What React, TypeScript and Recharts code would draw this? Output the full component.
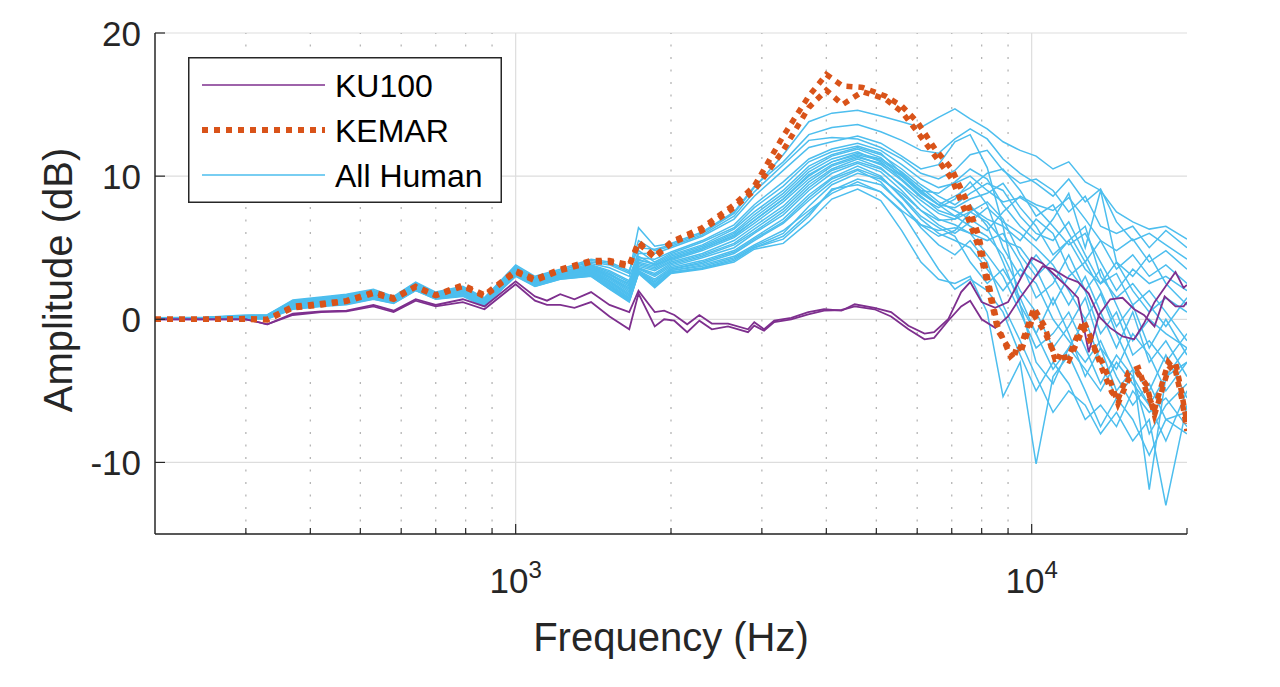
import { LineChart, Line, XAxis, YAxis, CartesianGrid, ReferenceLine, Legend, Label } from 'recharts';

// frequency grids (Hz)
const humanFreq = [200, 250, 300, 330, 370, 420, 470, 530, 580, 640, 700, 790, 870, 1000, 1090, 1220, 1400, 1520, 1660, 1730, 1860, 2000, 2300, 2650, 2900, 3300, 3700, 4100, 4600, 5100, 5600, 6100, 6600, 7100, 7600, 8200, 8800, 9500, 10200, 11000, 11800, 12700, 13600, 14600, 15700, 16900, 18200, 20000];
const kemarFreq = [200, 250, 300, 330, 370, 420, 470, 530, 580, 640, 700, 790, 870, 1000, 1090, 1220, 1400, 1520, 1660, 1730, 1860, 2000, 2300, 2650, 2900, 3300, 3700, 4000, 4300, 4700, 5200, 5600, 6000, 6500, 7000, 7500, 7900, 8200, 8600, 9100, 9500, 10100, 10600, 11100, 11800, 12600, 13000, 13700, 14300, 14700, 15400, 16100, 16700, 17300, 18400, 19000, 19500, 20000];
const ku100Freq = [200, 250, 300, 330, 370, 420, 470, 530, 580, 640, 700, 790, 870, 1000, 1090, 1150, 1220, 1300, 1400, 1520, 1660, 1730, 1860, 1940, 2030, 2150, 2270, 2400, 2580, 2820, 2900, 3030, 3170, 3420, 3690, 3960, 4280, 4540, 4960, 5340, 5770, 6200, 6470, 6890, 7300, 7600, 8000, 8500, 9000, 9500, 10000, 10500, 11000, 11700, 12300, 12900, 13500, 14200, 15000, 15800, 16500, 17300, 18100, 19000, 19700, 20000];

// amplitudes (dB)
const kemarLeft = [0, 0, 0.05, 0.0, 0.9, 1.1, 1.3, 1.9, 1.5, 2.3, 1.7, 2.4, 1.7, 3.4, 2.8, 3.5, 4.1, 4.1, 3.8, 5.4, 4.4, 5.4, 6.4, 8.0, 9.3, 12.8, 15.6, 17.1, 16.3, 16.2, 15.6, 14.9, 13.8, 11.9, 10.5, 8.2, 5.8, 3.0, -0.5, -2.6, -2.0, 0.8, -0.5, -2.8, -2.6, -0.1, -1.2, -3.5, -5.1, -5.6, -3.7, -3.4, -5.1, -6.3, -3.0, -3.6, -5.4, -7.8];
const kemarRight = [0, 0, 0.0, -0.05, 0.8, 1.0, 1.25, 1.8, 1.4, 2.25, 1.65, 2.3, 1.6, 3.3, 2.7, 3.4, 4.0, 4.0, 3.7, 5.3, 4.3, 5.3, 6.2, 7.8, 9.0, 11.8, 14.8, 16.0, 15.0, 15.9, 15.4, 14.5, 13.1, 11.4, 9.8, 7.2, 5.0, 2.5, -0.8, -2.2, -2.4, 0.3, -0.9, -2.5, -2.9, -0.6, -1.6, -3.0, -4.6, -5.9, -4.2, -3.8, -4.6, -6.7, -3.5, -3.0, -5.0, -7.3];
const ku100Left = [0, 0, 0, -0.35, 0.4, 0.55, 0.6, 1.0, 0.6, 1.4, 1.0, 1.4, 0.9, 2.65, 1.6, 1.3, 1.75, 1.4, 1.9, 1.0, 0.5, 2.0, 0.5, 0.6, 0.3, -0.35, 0.3, -0.3, -0.3, -0.7, -0.2, -0.7, -0.1, 0.1, 0.5, 0.7, 0.6, 1.05, 0.8, 0.5, -0.45, -1.0, -0.9, 0.0, 1.9, 2.6, 1.2, 0.8, 1.2, 2.8, 4.3, 3.9, 3.2, 2.3, 1.5, -2.3, 0.3, 1.4, 1.5, 0.7, 0.3, -0.5, 1.6, 0.9, 0.9, 1.2];
const ku100Right = [0, 0, 0, -0.35, 0.3, 0.5, 0.55, 0.9, 0.5, 1.3, 0.9, 1.2, 0.7, 2.45, 1.3, 1.0, 1.0, 0.8, 1.2, 0.2, -0.7, 1.8, -0.5, 0.0, -0.1, -0.9, -0.1, -0.7, -0.5, -0.9, -0.45, -0.8, -0.2, 0.0, 0.35, 0.6, 0.65, 0.9, 0.7, 0.2, -0.7, -1.4, -1.3, -0.1, 0.9, 1.3, 0.0, -0.6, 0.2, 1.5, 2.6, 3.7, 3.5, 2.9, 2.6, 1.8, 0.2, -0.6, -1.2, -1.4, -0.3, 1.2, 2.2, 3.3, 2.2, 2.4];

const human01 = [0.1, 0.15, 0.3, 0.3, 1.35, 1.55, 1.75, 2.1, 1.6, 2.6, 1.9, 2.3, 1.5, 3.8, 3.0, 3.5, 4.2, 4.0, 3.4, 5.0, 4.9, 5.2, 6.0, 7.4, 9.2, 11.5, 13.8, 14.4, 14.6, 14.2, 13.8, 13.4, 14.1, 14.7, 14.0, 13.3, 12.4, 11.8, 11.4, 10.5, 11.0, 9.6, 9.0, 7.5, 6.8, 6.3, 6.5, 5.6];
const human02 = [0.1, 0.12, 0.25, 0.3, 1.3, 1.5, 1.7, 2.0, 1.55, 2.55, 1.85, 2.2, 1.45, 3.7, 2.9, 3.4, 4.0, 3.8, 3.2, 6.4, 5.1, 5.3, 6.1, 7.5, 9.3, 11.0, 12.9, 13.4, 13.6, 13.1, 12.5, 11.8, 11.6, 12.6, 13.3, 12.6, 11.2, 10.2, 9.5, 8.6, 9.8, 8.2, 9.1, 6.8, 5.5, 6.0, 5.2, 4.2];
const human03 = [0.08, 0.1, 0.22, 0.25, 1.2, 1.45, 1.65, 1.95, 1.5, 2.5, 1.8, 2.15, 1.4, 3.6, 2.85, 3.3, 3.9, 3.6, 3.0, 4.6, 4.6, 5.0, 5.8, 7.0, 8.6, 10.4, 12.0, 12.4, 12.8, 12.3, 11.4, 10.5, 10.8, 12.4, 12.9, 10.6, 6.5, 1.0, -3.0, -4.5, -2.0, -3.5, -5.0, -3.0, -4.5, -6.0, -4.0, -3.0];
const human04 = [0.08, 0.1, 0.2, 0.25, 1.15, 1.4, 1.6, 1.9, 1.45, 2.45, 1.75, 2.1, 1.35, 3.55, 2.8, 3.25, 3.8, 3.4, 2.7, 4.3, 4.2, 4.7, 5.5, 6.6, 8.0, 9.6, 11.2, 11.9, 12.3, 11.8, 10.8, 9.8, 9.2, 9.5, 10.0, 9.0, 8.2, 8.5, 7.8, 6.5, 5.2, 6.0, 4.0, 2.0, 3.5, 2.5, 3.0, 2.0];
const human05 = [0.07, 0.1, 0.18, 0.22, 1.1, 1.35, 1.55, 1.85, 1.4, 2.4, 1.7, 2.05, 1.3, 3.5, 2.75, 3.2, 3.7, 3.2, 2.4, 4.1, 3.9, 4.5, 5.2, 6.3, 7.5, 9.0, 10.7, 11.5, 12.0, 11.5, 10.5, 9.4, 8.6, 8.0, 8.8, 9.5, 9.0, 7.2, 6.0, 5.5, 6.8, 4.5, 2.5, 4.0, 2.0, 0.5, 1.5, 0.5];
const human06 = [0.06, 0.08, 0.17, 0.2, 1.05, 1.3, 1.5, 1.8, 1.38, 2.35, 1.68, 2.0, 1.25, 3.45, 2.7, 3.15, 3.6, 3.0, 2.2, 4.0, 3.7, 4.3, 5.0, 6.0, 7.1, 8.6, 10.3, 11.2, 11.7, 11.0, 9.8, 8.6, 7.6, 7.2, 7.8, 7.0, 6.5, 5.5, 7.0, 6.0, 3.5, 2.0, 3.5, 1.0, -1.5, 0.0, -1.0, -2.0];
const human07 = [0.06, 0.08, 0.16, 0.18, 1.0, 1.25, 1.45, 1.75, 1.35, 2.3, 1.65, 1.95, 1.2, 3.4, 2.65, 3.1, 3.5, 2.9, 2.0, 3.8, 3.5, 4.1, 4.8, 5.7, 6.7, 8.2, 9.8, 10.8, 11.4, 10.8, 9.7, 8.5, 7.8, 8.4, 9.6, 8.0, 5.0, 3.0, 4.5, 3.0, 1.0, 3.0, 0.5, -2.0, 0.5, -3.0, -1.5, -4.0];
const human08 = [0.05, 0.08, 0.15, 0.17, 1.0, 1.25, 1.4, 1.75, 1.35, 2.3, 1.65, 1.95, 1.25, 3.4, 2.65, 3.15, 3.6, 3.1, 2.5, 4.4, 3.8, 4.2, 4.9, 5.8, 6.9, 8.4, 10.0, 11.0, 11.6, 11.2, 10.3, 9.2, 8.2, 7.6, 7.0, 6.2, 7.5, 8.6, 8.0, 7.6, 8.5, 7.0, 5.5, 4.8, 5.6, 4.0, 4.8, 3.5];
const human09 = [0.05, 0.07, 0.14, 0.15, 0.95, 1.2, 1.38, 1.7, 1.32, 2.25, 1.6, 1.9, 1.15, 3.35, 2.6, 3.05, 3.4, 2.7, 1.8, 3.6, 3.2, 3.9, 4.5, 5.3, 6.3, 7.7, 9.4, 10.5, 11.2, 10.6, 9.3, 8.0, 7.0, 6.6, 6.0, 5.5, 6.0, 4.0, 1.5, 2.5, 4.5, 2.0, -1.0, 0.5, -2.5, -1.5, -3.0, -1.0];
const human10 = [0.04, 0.06, 0.12, 0.13, 0.9, 1.15, 1.32, 1.65, 1.28, 2.2, 1.57, 1.85, 1.1, 3.3, 2.55, 3.0, 3.3, 2.6, 1.6, 3.5, 3.0, 3.7, 4.3, 5.0, 6.0, 7.3, 9.0, 10.2, 10.9, 10.3, 9.0, 7.6, 6.6, 6.0, 6.8, 7.8, 6.8, 6.0, 5.0, 3.8, 2.0, 0.0, 1.8, -1.0, -3.5, -5.0, -2.5, -5.5];
const human11 = [0.03, 0.05, 0.11, 0.12, 0.88, 1.1, 1.28, 1.6, 1.25, 2.17, 1.55, 1.82, 1.05, 3.25, 2.5, 2.95, 3.25, 2.5, 1.5, 3.4, 2.8, 3.6, 4.1, 4.8, 5.7, 7.0, 8.7, 9.9, 10.7, 10.0, 8.5, 7.0, 6.0, 5.5, 5.0, 3.5, 2.0, 3.5, 2.5, 0.0, -1.5, -3.0, -1.5, -4.0, -6.0, -4.5, -7.0, -6.5];
const human12 = [0.03, 0.05, 0.1, 0.1, 0.85, 1.05, 1.22, 1.55, 1.22, 2.13, 1.52, 1.78, 1.0, 3.2, 2.45, 2.9, 3.2, 2.4, 1.4, 3.3, 2.6, 3.5, 3.9, 4.6, 5.5, 6.7, 8.3, 9.6, 10.4, 9.6, 8.0, 6.6, 5.8, 6.2, 7.5, 8.2, 7.0, 4.5, 3.0, 4.2, 5.5, 3.5, 2.5, 3.2, 1.0, 2.0, 0.5, -1.5];
const human13 = [0.02, 0.04, 0.08, 0.08, 0.8, 1.0, 1.18, 1.5, 1.2, 2.1, 1.5, 1.75, 0.98, 3.15, 2.4, 2.85, 3.1, 2.3, 1.3, 3.3, 2.4, 3.4, 3.8, 4.4, 5.2, 6.2, 7.6, 8.8, 9.6, 8.9, 7.5, 5.4, 3.5, 2.1, 2.8, 2.0, 0.5, -2.5, -5.0, -3.0, -4.5, -7.0, -6.0, -7.5, -5.0, -6.5, -5.5, -7.5];
const human14 = [0.01, 0.02, 0.06, 0.05, 0.75, 0.95, 1.1, 1.45, 1.15, 2.05, 1.45, 1.7, 0.95, 3.1, 2.35, 2.85, 3.05, 2.2, 1.25, 3.2, 2.3, 3.3, 3.6, 4.2, 5.0, 5.6, 7.2, 9.1, 9.4, 8.9, 7.6, 6.6, 6.2, 6.4, 6.0, 4.5, 3.0, 0.5, -2.0, -1.0, 0.5, -2.0, -4.5, -2.5, -4.0, -8.0, -6.0, -4.5];
const human15 = [0.0, 0.0, 0.05, 0.02, 0.7, 0.9, 1.02, 1.4, 1.1, 2.0, 1.4, 1.6, 0.9, 3.0, 2.3, 2.8, 3.0, 2.1, 1.2, 3.2, 2.2, 3.2, 3.5, 4.0, 4.9, 5.3, 6.8, 8.4, 9.1, 8.3, 6.2, 4.0, 2.8, 2.5, 3.0, 0.5, -5.4, -3.0, -10.1, -4.0, -2.5, -5.0, -7.5, -5.5, -7.0, -9.5, -7.0, -8.0];
const human16 = [0.02, 0.03, 0.07, 0.06, 0.78, 0.98, 1.15, 1.48, 1.18, 2.08, 1.48, 1.72, 0.96, 3.12, 2.38, 2.87, 3.1, 2.3, 1.5, 3.4, 2.5, 3.4, 3.7, 4.3, 5.1, 6.0, 7.9, 9.4, 10.2, 9.8, 8.8, 7.6, 6.9, 7.0, 8.0, 6.5, 4.0, 1.0, -1.0, 1.5, -1.0, -4.0, -2.0, -5.0, -3.5, -11.9, -4.0, -2.0];
const human17 = [0.01, 0.02, 0.06, 0.04, 0.72, 0.92, 1.06, 1.42, 1.12, 2.02, 1.42, 1.65, 0.92, 3.05, 2.32, 2.82, 3.02, 2.15, 1.3, 3.3, 2.3, 3.25, 3.55, 4.1, 5.0, 5.8, 7.4, 9.0, 9.8, 9.4, 8.1, 6.4, 5.2, 4.5, 5.5, 4.0, 1.0, -1.5, -4.0, -6.5, -5.0, -6.0, -8.0, -6.5, -8.5, -7.0, -13.0, -6.0];
const human18 = [0.09, 0.12, 0.24, 0.28, 1.25, 1.5, 1.7, 2.0, 1.55, 2.5, 1.82, 2.2, 1.5, 3.7, 2.9, 3.4, 4.1, 3.9, 3.3, 5.5, 4.8, 5.1, 5.9, 7.2, 8.9, 10.8, 12.5, 12.7, 12.6, 12.0, 11.2, 10.2, 9.8, 10.4, 11.5, 11.8, 10.4, 9.5, 9.8, 9.0, 7.5, 8.6, 6.5, 6.0, 6.5, 5.0, 6.2, 5.0];
const human19 = [0.05, 0.07, 0.15, 0.16, 1.0, 1.22, 1.42, 1.72, 1.33, 2.28, 1.62, 1.92, 1.2, 3.38, 2.62, 3.08, 3.45, 2.8, 1.9, 3.7, 3.4, 4.0, 4.6, 5.5, 6.5, 7.9, 9.6, 10.7, 11.3, 10.9, 10.0, 9.0, 8.8, 9.6, 10.5, 9.8, 8.0, 6.5, 5.5, 7.0, 8.8, 5.0, 9.0, 4.0, 3.0, 4.5, 2.5, 1.0];
const human20 = [0.07, 0.1, 0.19, 0.22, 1.12, 1.38, 1.58, 1.88, 1.42, 2.42, 1.72, 2.08, 1.32, 3.52, 2.78, 3.22, 3.75, 3.3, 2.6, 4.8, 4.0, 4.6, 5.4, 6.4, 7.8, 9.3, 11.0, 11.7, 12.1, 11.6, 10.2, 9.0, 8.0, 7.2, 6.5, 5.8, 4.5, 2.0, 0.5, -2.0, -0.5, 1.5, -2.0, -3.5, -1.0, -2.5, -5.0, -3.0];
const human21 = [0.06, 0.08, 0.17, 0.19, 1.02, 1.28, 1.48, 1.78, 1.37, 2.33, 1.67, 1.98, 1.22, 3.43, 2.68, 3.12, 3.55, 2.95, 2.1, 3.9, 3.6, 4.2, 4.9, 5.9, 6.9, 8.4, 10.1, 11.0, 11.5, 11.1, 10.1, 8.9, 8.0, 7.8, 8.4, 8.8, 9.5, 7.8, 6.5, 4.5, 5.5, 6.5, 3.0, 1.5, 2.5, 1.0, -0.5, 1.5];
const human22 = [0.04, 0.06, 0.13, 0.14, 0.92, 1.17, 1.35, 1.67, 1.3, 2.22, 1.58, 1.87, 1.12, 3.32, 2.57, 3.02, 3.35, 2.65, 1.7, 3.55, 3.1, 3.8, 4.4, 5.2, 6.1, 7.5, 9.2, 10.4, 11.0, 10.5, 9.4, 8.3, 7.4, 7.0, 7.5, 6.8, 5.5, 5.0, 3.5, 1.0, 3.0, 4.0, 2.0, -0.5, 1.0, -2.0, 0.0, -2.5];
const human23 = [0.07, 0.09, 0.18, 0.21, 1.08, 1.33, 1.52, 1.82, 1.39, 2.37, 1.69, 2.02, 1.28, 3.47, 2.72, 3.18, 3.65, 3.1, 2.3, 4.2, 3.8, 4.4, 5.1, 6.1, 7.3, 8.8, 10.5, 11.4, 11.9, 11.3, 10.0, 8.8, 8.0, 8.6, 9.2, 10.2, 10.5, 9.0, 7.2, 8.0, 6.0, 4.0, 5.5, 3.5, 4.5, 3.0, 3.8, 2.5];
const human24 = [0.03, 0.04, 0.1, 0.1, 0.84, 1.05, 1.22, 1.55, 1.22, 2.13, 1.52, 1.78, 1.02, 3.2, 2.45, 2.9, 3.15, 2.4, 1.4, 3.35, 2.7, 3.5, 4.0, 4.7, 5.6, 6.8, 8.5, 9.8, 10.5, 9.9, 8.6, 7.2, 6.4, 5.8, 4.0, 2.5, 3.5, 1.5, -1.0, -3.5, -2.0, 0.0, -3.0, -5.5, -4.0, -6.0, -8.5, -5.0];

const humanCurves = [human01, human02, human03, human04, human05, human06, human07, human08, human09, human10, human11, human12, human13, human14, human15, human16, human17, human18, human19, human20, human21, human22, human23, human24];

// axes
const xTicks = [300, 400, 500, 600, 700, 800, 900, 1000, 2000, 3000, 4000, 5000, 6000, 7000, 8000, 9000, 10000, 20000];
const xMajor = [1000, 10000];
const xExponent = ['3', '4'];
const xMinorGrid = [300, 400, 500, 600, 700, 800, 900, 2000, 3000, 4000, 5000, 6000, 7000, 8000, 9000];
const yTicks = [-10, 0, 10, 20];

const legendItems = [
  { name: 'KU100', color: '#7E2F8E', dotted: false },
  { name: 'KEMAR', color: '#D95319', dotted: true },
  { name: 'All Human', color: '#4DBEEE', dotted: false },
];

const FONT = '"Liberation Sans", Arial, Helvetica, sans-serif';
const INK = '#262626';
const HUMAN = '#4DBEEE';
const KU100 = '#7E2F8E';
const KEMAR = '#D95319';

const toPoints = (freqs: number[], values: number[]) => freqs.map((f, i) => ({ f, y: values[i] }));

const BottomTick = ({ x, y, payload }: any) => {
  const idx = xMajor.indexOf(payload.value);
  const major = idx >= 0;
  return (
    <g>
      <line x1={x} x2={x} y1={y} y2={y - (major ? 10 : 6)} stroke={INK} strokeWidth={1.2} />
      {major && (
        <text x={x} y={y + 59} textAnchor="middle" fontSize={35} fill={INK} fontFamily={FONT}>
          10<tspan dy={-15} fontSize={24}>{xExponent[idx]}</tspan>
        </text>
      )}
    </g>
  );
};

const TopTick = ({ x, y, payload }: any) => {
  const major = xMajor.includes(payload.value);
  return <line x1={x} x2={x} y1={y} y2={y + (major ? 10 : 6)} stroke={INK} strokeWidth={1.2} />;
};

const LeftTick = ({ x, y, payload }: any) => (
  <g>
    <line x1={x} x2={x + 10} y1={y} y2={y} stroke={INK} strokeWidth={1.2} />
    <text x={x - 14} y={y + 12.5} textAnchor="end" fontSize={35} fill={INK} fontFamily={FONT}>
      {payload.value}
    </text>
  </g>
);

const RightTick = ({ x, y }: any) => <line x1={x} x2={x - 10} y1={y} y2={y} stroke={INK} strokeWidth={1.2} />;

const FreqTitle = () => (
  <text x={671} y={651} textAnchor="middle" fontSize={40} fill={INK} fontFamily={FONT}>
    Frequency (Hz)
  </text>
);

const AmpTitle = () => (
  <text x={72} y={280} transform="rotate(-90 72 280)" textAnchor="middle" fontSize={40} fill={INK} fontFamily={FONT}>
    Amplitude (dB)
  </text>
);

const LegendBox = () => (
  <svg width={314} height={146} style={{ display: 'block' }}>
    <rect x={0.75} y={0.75} width={312.5} height={144.5} fill="#fff" stroke={INK} strokeWidth={1.5} />
    {legendItems.map((item, i) => {
      const cy = 28 + i * 45;
      return (
        <g key={item.name}>
          <line
            x1={14}
            x2={137}
            y1={cy}
            y2={cy}
            stroke={item.color}
            strokeWidth={item.dotted ? 6 : 1.5}
            strokeDasharray={item.dotted ? '6 6' : undefined}
          />
          <text x={147} y={cy + 11.5} fontSize={32} fill="#000" fontFamily={FONT}>
            {item.name}
          </text>
        </g>
      );
    })}
  </svg>
);

export default function App() {
  return (
    <div style={{ position: 'absolute', left: 0, top: 0, width: 1280, height: 687, background: '#fff' }}>
      <LineChart width={1280} height={687} margin={{ top: 33, right: 93, bottom: 0, left: 0 }}>
        <CartesianGrid vertical={false} stroke="#dddddd" strokeWidth={1.2} />
        {xMinorGrid.map((f) => (
          <ReferenceLine key={`m${f}`} x={f} stroke="#b5b5b5" strokeWidth={1.3} strokeDasharray="2 10.5" />
        ))}
        {xMajor.map((f) => (
          <ReferenceLine key={`M${f}`} x={f} stroke="#dddddd" strokeWidth={1.2} />
        ))}
        <XAxis
          dataKey="f"
          type="number"
          scale="log"
          domain={[200, 20000]}
          allowDataOverflow
          ticks={xTicks}
          interval={0}
          tickSize={0}
          tickMargin={0}
          tick={<BottomTick />}
          height={153}
          axisLine={{ stroke: INK, strokeWidth: 1.5 }}
        >
          <Label content={<FreqTitle />} />
        </XAxis>
        <XAxis
          xAxisId="top"
          orientation="top"
          dataKey="f"
          type="number"
          scale="log"
          domain={[200, 20000]}
          allowDataOverflow
          ticks={xTicks}
          interval={0}
          tickSize={0}
          tickMargin={0}
          tick={<TopTick />}
          height={0}
          axisLine={{ stroke: INK, strokeWidth: 1.5 }}
        />
        <YAxis
          type="number"
          domain={[-15, 20]}
          allowDataOverflow
          ticks={yTicks}
          interval={0}
          tickSize={0}
          tickMargin={0}
          tick={<LeftTick />}
          width={155}
          axisLine={{ stroke: INK, strokeWidth: 1.5 }}
        >
          <Label content={<AmpTitle />} />
        </YAxis>
        <YAxis
          yAxisId="right"
          orientation="right"
          type="number"
          domain={[-15, 20]}
          allowDataOverflow
          ticks={yTicks}
          interval={0}
          tickSize={0}
          tickMargin={0}
          tick={<RightTick />}
          width={0}
          axisLine={{ stroke: INK, strokeWidth: 1.5 }}
        />
        {humanCurves.map((h, i) => (
          <Line
            key={`h${i}`}
            data={toPoints(humanFreq, h)}
            dataKey="y"
            type="linear"
            stroke={HUMAN}
            strokeWidth={1.5}
            dot={false}
            activeDot={false}
            legendType="none"
            isAnimationActive={false}
          />
        ))}
        <Line data={toPoints(ku100Freq, ku100Left)} dataKey="y" type="linear" stroke={KU100} strokeWidth={1.8} dot={false} activeDot={false} legendType="none" isAnimationActive={false} />
        <Line data={toPoints(ku100Freq, ku100Right)} dataKey="y" type="linear" stroke={KU100} strokeWidth={1.8} dot={false} activeDot={false} legendType="none" isAnimationActive={false} />
        <Line data={toPoints(kemarFreq, kemarLeft)} dataKey="y" type="linear" stroke={KEMAR} strokeWidth={5.5} strokeDasharray="6 6" dot={false} activeDot={false} legendType="none" isAnimationActive={false} />
        <Line data={toPoints(kemarFreq, kemarRight)} dataKey="y" type="linear" stroke={KEMAR} strokeWidth={5.5} strokeDasharray="6 6" dot={false} activeDot={false} legendType="none" isAnimationActive={false} />
        <Legend
          layout="horizontal"
          verticalAlign="middle"
          align="center"
          content={<LegendBox />}
          wrapperStyle={{ left: 188, top: 57, width: 314, height: 146 }}
        />
      </LineChart>
    </div>
  );
}
